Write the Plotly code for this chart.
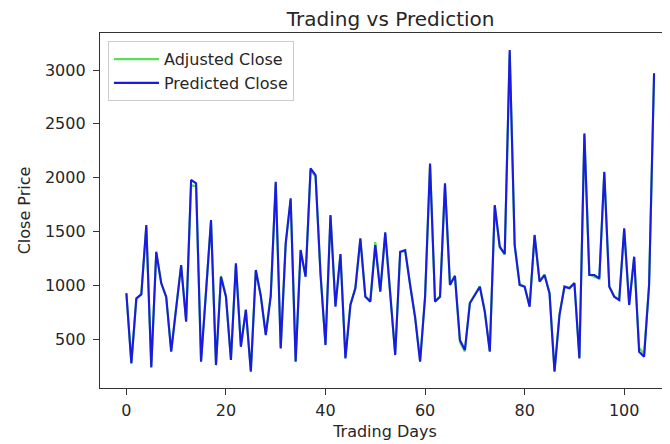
import plotly.graph_objects as go

days = list(range(107))

predicted_close = [
    927, 274, 878, 915, 1559, 237, 1311, 1018, 893, 382,
    788, 1188, 661, 1978, 1947, 289, 940, 1606, 258, 1079,
    893, 305, 1203, 428, 770, 196, 1141, 900, 537, 900,
    1962, 413, 1389, 1808, 289, 1327, 1079, 2086, 2024, 1100,
    444, 1652, 800, 1290, 320, 816, 971, 1436, 893, 847,
    1374, 940, 1491, 880, 351, 1311, 1327, 1000, 700, 289,
    890, 2132, 847, 893, 1947, 1002, 1085, 491, 398, 832,
    909, 986, 753, 382, 1745, 1358, 1290, 3186, 1374, 1002,
    986, 800, 1467, 1033, 1095, 924, 196, 723, 986, 971,
    1018, 320, 2411, 1095, 1095, 1064, 2055, 986, 893, 862,
    1529, 816, 1265, 382, 336, 1000, 2969,
]

adjusted_close = [
    920, 280, 870, 920, 1540, 245, 1300, 1025, 885, 390,
    795, 1180, 670, 1930, 1920, 295, 945, 1590, 265, 1085,
    900, 312, 1195, 436, 775, 205, 1135, 905, 545, 905,
    1945, 420, 1380, 1790, 296, 1320, 1085, 2070, 2010, 1105,
    450, 1640, 808, 1285, 328, 822, 976, 1425, 900, 853,
    1400, 945, 1480, 885, 360, 1305, 1320, 1005, 705, 297,
    895, 2110, 853, 898, 1930, 1008, 1090, 470, 385, 838,
    914, 990, 760, 390, 1735, 1350, 1285, 3160, 1370, 1008,
    990, 808, 1460, 1040, 1100, 930, 205, 730, 990, 976,
    1022, 328, 2395, 1100, 1080, 1060, 2040, 990, 898, 868,
    1515, 822, 1258, 420, 360, 1010, 2950,
]

title_text = "Trading vs Prediction"
x_title = "Trading Days"
y_title = "Close Price"
x_ticks = [0, 20, 40, 60, 80, 100]
y_ticks = [500, 1000, 1500, 2000, 2500, 3000]

fig = go.Figure()
fig.add_trace(go.Scatter(
    x=days, y=adjusted_close, mode="lines", name="Adjusted Close",
    line=dict(color="#5ade5a", width=2.2),
))
fig.add_trace(go.Scatter(
    x=days, y=predicted_close, mode="lines", name="Predicted Close",
    line=dict(color="#1a1ae0", width=2.1),
))

font_family = "DejaVu Sans, Arial, sans-serif"
axis_color = "#333333"
text_color = "#262626"

fig.update_layout(
    width=662, height=436,
    margin=dict(l=92, r=0, t=25, b=56),
    paper_bgcolor="white", plot_bgcolor="white",
    font=dict(family=font_family, size=16, color=text_color),
    title=dict(text=title_text, x=0.51, xref="paper", xanchor="center",
               y=1 - 11 / 436, yref="container", yanchor="middle",
               font=dict(size=20, color=text_color)),
    showlegend=True,
    legend=dict(x=0.014, y=0.977, xanchor="left", yanchor="top",
                bgcolor="rgba(255,255,255,0.9)", bordercolor="#cccccc",
                borderwidth=1, font=dict(size=16, color=text_color),
                tracegroupgap=0, itemwidth=45),
    xaxis=dict(
        range=[-5.3, 109.2], tickvals=x_ticks, ticktext=[str(v) for v in x_ticks],
        showgrid=False, zeroline=False, showline=True, linecolor=axis_color,
        linewidth=1.3, mirror=True, ticks="outside", ticklen=6, tickcolor=axis_color,
        tickfont=dict(size=16), ticklabelstandoff=2,
        title=dict(text=x_title, font=dict(size=16), standoff=6),
    ),
    yaxis=dict(
        range=[45, 3344], tickvals=y_ticks, ticktext=[str(v) for v in y_ticks],
        showgrid=False, zeroline=False, showline=True, linecolor=axis_color,
        linewidth=1.3, mirror=False, ticks="outside", ticklen=6, tickcolor=axis_color,
        tickfont=dict(size=16), ticklabelstandoff=4,
        title=dict(text=y_title, font=dict(size=16), standoff=10),
    ),
)

fig.write_html("out.html")
